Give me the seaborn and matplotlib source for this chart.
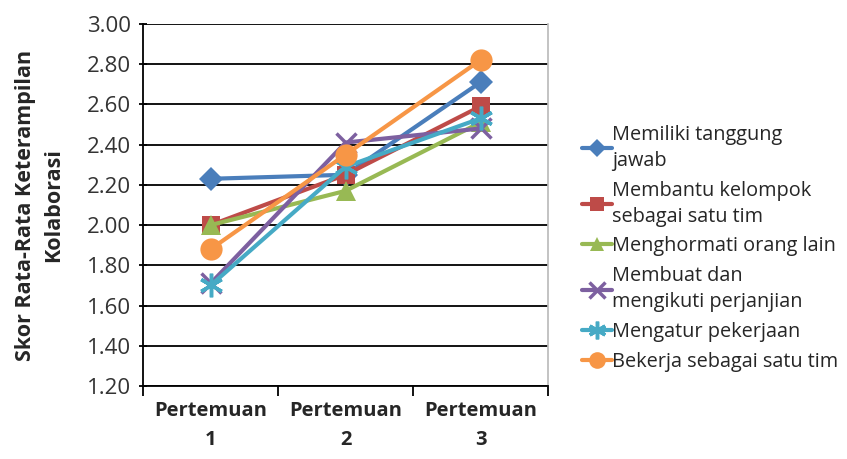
import matplotlib
matplotlib.use("Agg")
import matplotlib.pyplot as plt
import seaborn as sns
import pandas as pd
from matplotlib.ticker import FormatStrFormatter

sessions = ["Pertemuan\n1", "Pertemuan\n2", "Pertemuan\n3"]
series_names = [
    "Memiliki tanggung\njawab",
    "Membantu kelompok\nsebagai satu tim",
    "Menghormati orang lain",
    "Membuat dan\nmengikuti perjanjian",
    "Mengatur pekerjaan",
    "Bekerja sebagai satu tim",
]
tanggung_jawab = [2.23, 2.25, 2.71]
membantu = [2.00, 2.25, 2.59]
menghormati = [2.00, 2.17, 2.51]
perjanjian = [1.71, 2.41, 2.48]
mengatur = [1.70, 2.29, 2.53]
bekerja = [1.88, 2.35, 2.82]
all_values = [tanggung_jawab, membantu, menghormati, perjanjian, mengatur, bekerja]

colors = ["#4A7EBB", "#BE4B48", "#98B954", "#7D60A0", "#46AAC5", "#F79646"]
markers = ["D", "s", "^", "x", (6, 2, 0), "o"]
sizes = [12, 13, 14, 15, 17, 16]

rows = []
for name, vals in zip(series_names, all_values):
    for s, v in zip(sessions, vals):
        rows.append({"Pertemuan": s, "Skor": v, "Aspek": name})
df = pd.DataFrame(rows)

sns.set_theme(style="white")
plt.rcParams["font.family"] = ["Open Sans", "DejaVu Sans"]

fig = plt.figure(figsize=(8.47, 4.59), dpi=100)
ax = fig.add_axes([0.169, 0.159, 0.478, 0.789])

for i, name in enumerate(series_names):
    sub = df[df["Aspek"] == name]
    sns.lineplot(data=sub, x="Pertemuan", y="Skor", ax=ax, color=colors[i],
                 marker=markers[i], markersize=sizes[i], linewidth=3,
                 markeredgewidth=2.5 if i in (3, 4) else 0, markeredgecolor=colors[i],
                 label=name, sort=False)

ax.set_xlim(-0.5, 2.5)
ax.set_ylim(1.2, 3.0)
ax.set_yticks([1.2 + 0.2 * k for k in range(10)])
ax.yaxis.set_major_formatter(FormatStrFormatter("%.2f"))
ax.yaxis.grid(True, color="black", linewidth=1.3)
ax.set_axisbelow(True)
ax.set_xticks([0, 1, 2])
ax.set_xticklabels(sessions, fontweight="bold", fontsize=14.5, linespacing=1.55)
ax.set_xticks([-0.5, 0.5, 1.5, 2.5], minor=True)
ax.tick_params(axis="x", which="major", length=0, pad=11)
ax.tick_params(axis="x", which="minor", length=7, width=1.3, color="black", direction="out", bottom=True)
ax.tick_params(axis="y", length=6, width=1.3, color="black", direction="inout", left=True, labelsize=16, pad=6)
for lab in ax.get_yticklabels():
    lab.set_color("#333333")

ax.spines["top"].set_visible(False)
ax.spines["right"].set_color("#bbbbbb")
ax.spines["left"].set_color("black")
ax.spines["bottom"].set_color("black")
ax.spines["left"].set_linewidth(1.3)
ax.spines["bottom"].set_linewidth(1.3)

ax.set_xlabel("")
ax.set_ylabel("Skor Rata-Rata Keterampilan\nKolaborasi", fontweight="bold", fontsize=15.5,
              labelpad=16, linespacing=1.45)

leg = ax.legend(loc="center left", bbox_to_anchor=(1.065, 0.38), frameon=False, fontsize=14.3,
                handlelength=1.5, handletextpad=0.0, labelspacing=0.5, borderaxespad=0,
                markerscale=0.75)
for t in leg.get_texts():
    t.set_linespacing(1.4)

fig.savefig("out.png", dpi=100)
